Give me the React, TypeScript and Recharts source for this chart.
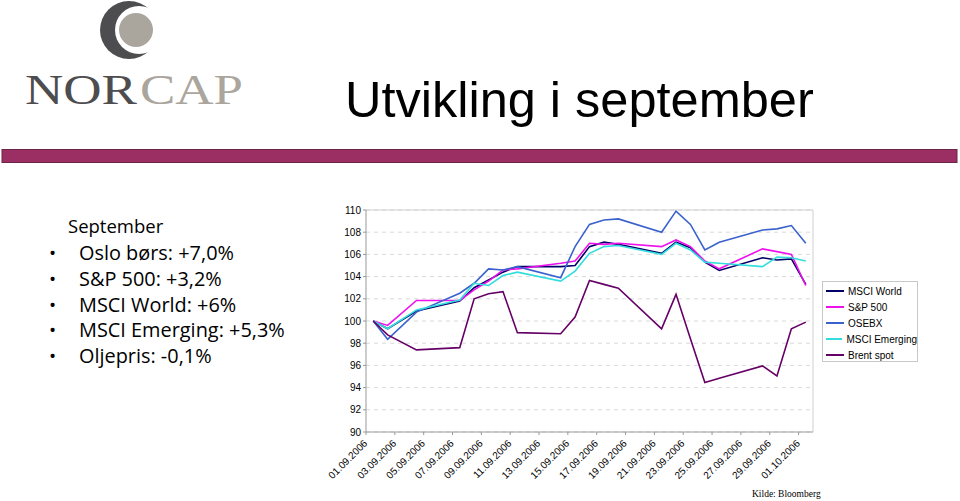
import React from "react";
import { LineChart, Line, XAxis, YAxis, CartesianGrid, Legend, ReferenceLine } from "recharts";

// trading days, counted from 01.09 = 1
const days = [1, 2, 4, 7, 8, 9, 10, 11, 14, 15, 16, 17, 18, 21, 22, 23, 24, 25, 28, 29, 30, 31];

const msciWorld = [100, 99.3, 100.9, 101.8, 103.0, 103.7, 104.4, 104.9, 104.9, 105.0, 106.7, 107.1, 106.9, 106.1, 107.1, 106.6, 105.3, 104.55, 105.7, 105.5, 105.6, 103.3];
const sp500 = [100, 99.6, 101.85, 101.85, 102.8, 103.6, 104.6, 104.7, 105.2, 105.4, 107.0, 106.9, 107.0, 106.7, 107.3, 106.7, 105.4, 104.7, 106.5, 106.25, 106.0, 103.2];
const osebx = [100, 98.35, 100.8, 102.5, 103.4, 104.7, 104.6, 104.9, 103.9, 106.7, 108.7, 109.1, 109.2, 108.0, 109.9, 108.7, 106.4, 107.1, 108.2, 108.3, 108.6, 107.0];
const msciEmerging = [100, 99.3, 101.0, 101.9, 103.4, 103.2, 104.1, 104.4, 103.6, 104.5, 106.1, 106.7, 106.8, 106.0, 107.0, 106.4, 105.3, 105.2, 104.9, 105.75, 105.7, 105.4];
const brentSpot = [100, 98.75, 97.4, 97.6, 102.0, 102.45, 102.65, 98.95, 98.85, 100.35, 103.65, 103.3, 102.95, 99.3, 102.4, 98.4, 94.45, 94.85, 95.95, 95.05, 99.3, 99.9];

const seriesNames = ["MSCI World", "S&P 500", "OSEBX", "MSCI Emerging", "Brent spot"];

const xTicks = [1, 3, 5, 7, 9, 11, 13, 15, 17, 19, 21, 23, 25, 27, 29, 31];
const xTickLabels = [
  "01.09.2006", "03.09.2006", "05.09.2006", "07.09.2006", "09.09.2006", "11.09.2006",
  "13.09.2006", "15.09.2006", "17.09.2006", "19.09.2006", "21.09.2006", "23.09.2006",
  "25.09.2006", "27.09.2006", "29.09.2006", "01.10.2006",
];
const yTicks = [90, 92, 94, 96, 98, 100, 102, 104, 106, 108, 110];

const bullets = ["Oslo børs: +7,0%", "S&P 500: +3,2%", "MSCI World: +6%", "MSCI Emerging: +5,3%", "Oljepris: -0,1%"];

const data = days.map((d, i) => ({
  x: d + 0.5,
  world: msciWorld[i],
  sp: sp500[i],
  osebx: osebx[i],
  em: msciEmerging[i],
  brent: brentSpot[i],
}));

const FONT = "'Liberation Sans', Arial, sans-serif";
const TEXTFONT = "'Open Sans', sans-serif";

const XTick = (props: any) => {
  const { x, y, payload } = props;
  const idx = xTicks.indexOf(payload.value);
  const ax = x + 2;
  const ay = y + 7;
  return (
    <text x={ax} y={ay} transform={`rotate(-45, ${ax}, ${ay})`} textAnchor="end" fontSize={10} fontFamily={FONT} fill="#000">
      {xTickLabels[idx]}
    </text>
  );
};

const LegendBox = (props: any) => {
  const items = [...(props.payload || [])].sort(
    (a: any, b: any) => seriesNames.indexOf(a.value) - seriesNames.indexOf(b.value)
  );
  return (
    <div style={{ border: "1px solid #c8c8c8", background: "#fff", width: 94, height: 78, paddingTop: 1, boxSizing: "content-box" }}>
      {items.map((p: any) => (
        <div key={p.value} style={{ height: 16, display: "flex", alignItems: "center", fontSize: 10, fontFamily: FONT, color: "#000", whiteSpace: "nowrap" }}>
          <span style={{ display: "inline-block", width: 18, height: 2, background: p.color, marginLeft: 3, marginRight: 4 }} />
          {p.value}
        </div>
      ))}
    </div>
  );
};

export default function App() {
  return (
    <div style={{ position: "absolute", left: 0, top: 0, width: 960, height: 501, background: "#fff", overflow: "hidden" }}>
      <svg width={960} height={501} style={{ position: "absolute", left: 0, top: 0 }}>
        {/* logo */}
        <circle cx={129} cy={30} r={29} fill="#4d4d4f" />
        <circle cx={139} cy={30} r={24} fill="#fff" />
        <circle cx={136} cy={30} r={17} fill="#aba69d" />
        <text x={25} y={104} fontSize={42} fontFamily="'Liberation Serif', serif" fill="#4d4d4f" textLength={112} lengthAdjust="spacingAndGlyphs">NOR</text>
        <text x={140} y={104} fontSize={42} fontFamily="'Liberation Serif', serif" fill="#aba69d" textLength={103} lengthAdjust="spacingAndGlyphs">CAP</text>

        <text x={345} y={117} fontSize={50.5} fontFamily={FONT} fill="#000">Utvikling i september</text>

        <rect x={2} y={149.5} width={955} height={13} fill="#9b2e62" stroke="#702349" strokeWidth={1} />

        <text x={68} y={233} fontSize={18.5} fontFamily={TEXTFONT} fill="#000">September</text>
        {bullets.map((b, i) => (
          <g key={b}>
            <text x={49} y={260 + i * 25.8} fontSize={19} fontFamily={TEXTFONT} fill="#000">•</text>
            <text x={79} y={260 + i * 25.8} fontSize={19.9} fontFamily={TEXTFONT} fill="#000">{b}</text>
          </g>
        ))}

        <text x={752} y={497} fontSize={9.5} fontFamily="'Liberation Serif', serif" fill="#000">Kilde: Bloomberg</text>
      </svg>

      <div style={{ position: "absolute", left: 310, top: 200 }}>
        <LineChart width={620} height={290} data={data} margin={{ top: 10, right: 117, bottom: 0, left: 6 }}>
          <CartesianGrid vertical={false} stroke="#d9d9d9" strokeDasharray="4 4" />
          <ReferenceLine y={110} stroke="#cfcfcf" />
          <ReferenceLine x={32} stroke="#cfcfcf" />
          <XAxis
            type="number"
            dataKey="x"
            domain={[1, 32]}
            ticks={xTicks}
            interval={0}
            tick={<XTick />}
            tickSize={3}
            tickMargin={2}
            height={58}
            stroke="#999"
            allowDataOverflow
          />
          <YAxis
            domain={[90, 110]}
            ticks={yTicks}
            interval={0}
            tickSize={3}
            tickMargin={2}
            width={50}
            stroke="#999"
            tick={{ fontSize: 10, fill: "#000", fontFamily: FONT }}
          />
          <Legend
            layout="horizontal"
            verticalAlign="middle"
            align="center"
            width={96}
            content={<LegendBox />}
            wrapperStyle={{ left: 512, top: 81, width: 96, height: 80 }}
          />
          <Line dataKey="world" name="MSCI World" stroke="#000066" strokeWidth={1.6} dot={false} isAnimationActive={false} />
          <Line dataKey="sp" name="S&P 500" stroke="#ee11ee" strokeWidth={1.6} dot={false} isAnimationActive={false} />
          <Line dataKey="osebx" name="OSEBX" stroke="#3a62cc" strokeWidth={1.6} dot={false} isAnimationActive={false} />
          <Line dataKey="em" name="MSCI Emerging" stroke="#33dddd" strokeWidth={1.6} dot={false} isAnimationActive={false} />
          <Line dataKey="brent" name="Brent spot" stroke="#660066" strokeWidth={1.6} dot={false} isAnimationActive={false} />
        </LineChart>
      </div>
    </div>
  );
}
